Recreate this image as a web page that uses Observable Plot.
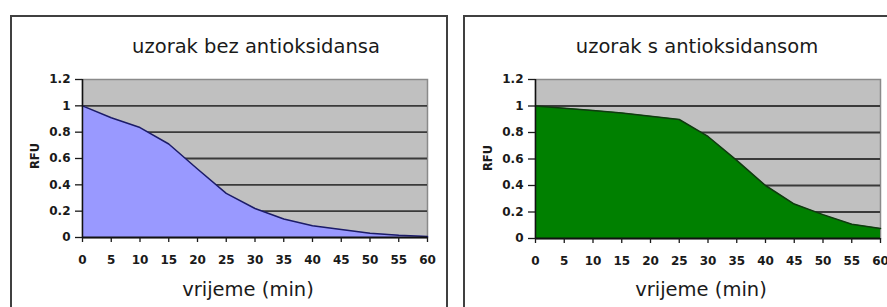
<!DOCTYPE html>
<html>
<head>
<meta charset="utf-8">
<script src="https://cdn.jsdelivr.net/npm/d3@7"></script>
<script src="https://cdn.jsdelivr.net/npm/@observablehq/plot@0.6"></script>
<style>
  html, body { margin: 0; padding: 0; background: #fff; }
  body { width: 887px; height: 307px; position: relative; overflow: hidden; font-family: "DejaVu Sans", sans-serif; }
  .frame { position: absolute; border: 2px solid #404040; box-sizing: border-box; z-index: 2; }
  .plotbox { position: absolute; top: 0; }
  .plotbox svg text { font-family: "DejaVu Sans", sans-serif !important; font-size: 12px !important; font-weight: bold !important; fill: #1a1a1a; }
  .title, .xlabel { position: absolute; width: 400px; font-size: 19.5px; line-height: 19.5px; color: #1a1a1a; text-align: center; white-space: nowrap; z-index: 3; }
  .ylabel { position: absolute; font-size: 11.5px; font-weight: bold; color: #1a1a1a; transform: translate(-50%, -50%) rotate(-90deg); white-space: nowrap; z-index: 3; }
</style>
</head>
<body>
<div class="frame" style="left:10px;top:15px;width:438px;height:310px"></div>
<div class="frame" style="left:463px;top:15px;width:440px;height:310px"></div>
<div id="left" class="plotbox" style="left:0px"></div>
<div id="right" class="plotbox" style="left:450px"></div>
<div class="title" style="left:56px;top:37px">uzorak bez antioksidansa</div>
<div class="xlabel" style="left:48px;top:280px">vrijeme (min)</div>
<div class="ylabel" style="left:35px;top:156px">RFU</div>
<div class="title" style="left:497px;top:37px">uzorak s antioksidansom</div>
<div class="xlabel" style="left:501px;top:280px">vrijeme (min)</div>
<div class="ylabel" style="left:488px;top:158px">RFU</div>
<script>
const minutes = [0, 5, 10, 15, 20, 25, 30, 35, 40, 45, 50, 55, 60];
const rfuBez = [1.00, 0.91, 0.835, 0.71, 0.52, 0.335, 0.22, 0.14, 0.09, 0.06, 0.033, 0.018, 0.008];
const rfuS = [1.00, 0.983, 0.966, 0.948, 0.923, 0.898, 0.77, 0.59, 0.40, 0.26, 0.18, 0.107, 0.075];
const xTicks = [0, 5, 10, 15, 20, 25, 30, 35, 40, 45, 50, 55, 60];
const yTicks = [0, 0.2, 0.4, 0.6, 0.8, 1, 1.2];
const gridLines = [0.2, 0.4, 0.6, 0.8, 1];

function panel(values, fill, lineColor, opts) {
  const data = minutes.map((m, i) => ({m, v: values[i]}));
  return Plot.plot({
    width: opts.width,
    height: 307,
    marginLeft: opts.ml,
    marginRight: opts.mr,
    marginTop: 79,
    marginBottom: opts.mb,
    x: {domain: [0, 60]},
    y: {domain: [0, 1.2]},
    style: {fontFamily: "DejaVu Sans", fontSize: "12px", fontWeight: "bold", color: "#1a1a1a", background: "transparent", overflow: "visible"},
    marks: [
      Plot.frame({fill: "#c0c0c0", stroke: "#8a8a8a", strokeWidth: 1.5}),
      Plot.ruleY(gridLines, {stroke: "#3a3a3a", strokeWidth: 1.8}),
      Plot.areaY(data, {x: "m", y: "v", fill: fill}),
      Plot.lineY(data, {x: "m", y: "v", stroke: lineColor, strokeWidth: 1.5}),
      Plot.ruleX([0], {stroke: "#111", strokeWidth: 1.5}),
      Plot.ruleY([0], {stroke: "#111", strokeWidth: 2}),
      Plot.axisX({ticks: xTicks, tickSize: 5, tickPadding: 13, label: null, strokeWidth: 1.3, tickFormat: d => String(d)}),
      Plot.axisY({ticks: yTicks, tickSize: 7, tickPadding: 5, label: null, strokeWidth: 1.3, tickFormat: d => String(+d.toFixed(1))})
    ]
  });
}

document.getElementById("left").append(panel(rfuBez, "#9999ff", "#1c1c66", {width: 447, ml: 82, mr: 20, mb: 70}));
document.getElementById("right").append(panel(rfuS, "#008000", "#103a10", {width: 437, ml: 85, mr: 7, mb: 69}));
</script>
</body>
</html>
